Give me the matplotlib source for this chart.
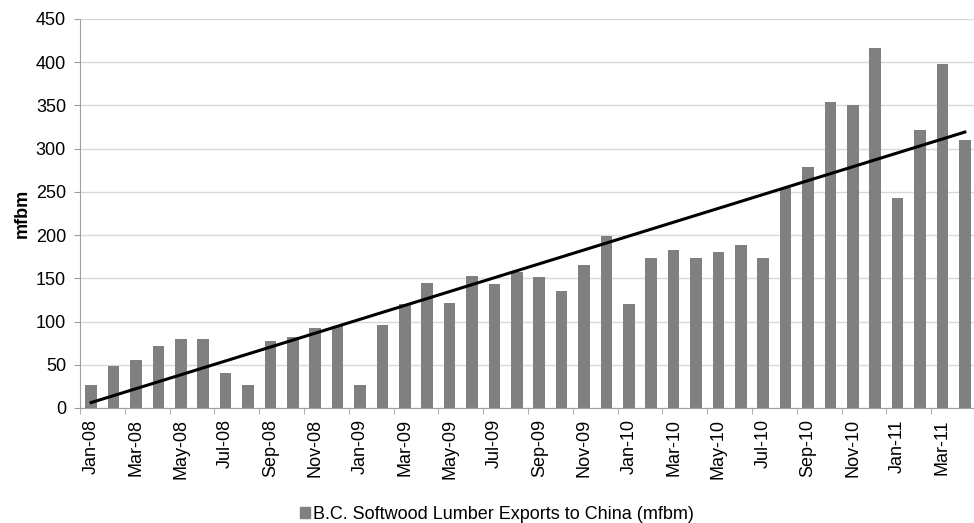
import numpy as np
import matplotlib.pyplot as plt
from matplotlib.patches import Patch

plt.rcParams['font.family'] = ['Liberation Sans', 'DejaVu Sans']

# monthly exports, Jan-08 .. Apr-11
months = ['Jan-08', 'Feb-08', 'Mar-08', 'Apr-08', 'May-08', 'Jun-08', 'Jul-08', 'Aug-08',
          'Sep-08', 'Oct-08', 'Nov-08', 'Dec-08', 'Jan-09', 'Feb-09', 'Mar-09', 'Apr-09',
          'May-09', 'Jun-09', 'Jul-09', 'Aug-09', 'Sep-09', 'Oct-09', 'Nov-09', 'Dec-09',
          'Jan-10', 'Feb-10', 'Mar-10', 'Apr-10', 'May-10', 'Jun-10', 'Jul-10', 'Aug-10',
          'Sep-10', 'Oct-10', 'Nov-10', 'Dec-10', 'Jan-11', 'Feb-11', 'Mar-11', 'Apr-11']
exports = [27, 49, 55, 72, 80, 80, 40, 27,
           78, 82, 92, 95, 27, 96, 120, 145,
           122, 153, 143, 157, 151, 135, 165, 199,
           120, 173, 183, 173, 181, 189, 173, 255,
           279, 354, 350, 417, 243, 322, 398, 310]
series_name = 'B.C. Softwood Lumber Exports to China (mfbm)'

x = np.arange(len(months))
y = np.array(exports)

# linear trendline
k, b = np.polyfit(x, y, 1)

fig = plt.figure(figsize=(9.74, 5.23), dpi=100)
ax = fig.add_axes([0.0821, 0.2199, 0.92, 0.7438])

ax.bar(x, y, width=0.52, color='#808080', zorder=2)
ax.plot(x, k * x + b, color='black', lw=2.2, zorder=3)

ax.set_xlim(-0.5, len(months) - 0.5)
ax.set_ylim(0, 450)
ax.set_yticks(np.arange(0, 451, 50))
ax.grid(axis='y', color='#d9d9d9', lw=1, zorder=0)

ax.set_xticks(x[::2])
ax.set_xticklabels(months[::2], rotation=90, fontsize=13)
ax.set_xticks(np.arange(-0.5, len(months), 2), minor=True)
ax.tick_params(axis='x', which='major', length=0, pad=8)
ax.tick_params(axis='x', which='minor', length=4, color='#a0a0a0')
ax.tick_params(axis='y', length=4, color='#a0a0a0', labelsize=13, pad=6)

for s in ['top', 'right']:
    ax.spines[s].set_visible(False)
for s in ['left', 'bottom']:
    ax.spines[s].set_color('#a0a0a0')

ax.set_ylabel('mfbm', fontweight='bold', fontsize=13, labelpad=4)

fig.legend(handles=[Patch(color='#808080', label=series_name)],
           loc='lower center', bbox_to_anchor=(0.51, -0.031), frameon=False,
           handlelength=0.6, handleheight=0.6, handletextpad=0.15, fontsize=13)

fig.savefig('out.png', dpi=100)
